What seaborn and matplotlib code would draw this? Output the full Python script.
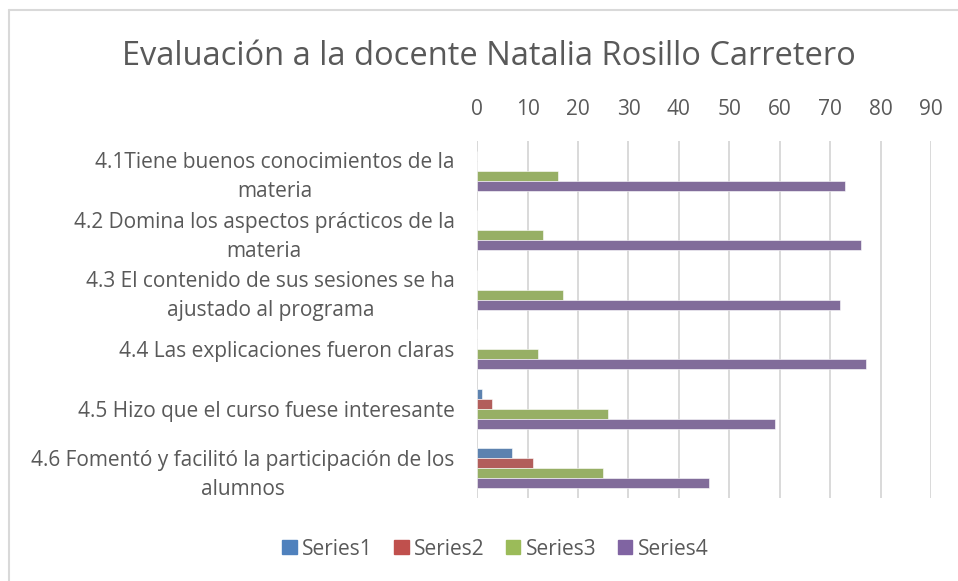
import pandas as pd
import matplotlib.pyplot as plt
import seaborn as sns
from matplotlib.lines import Line2D

# Chart data
categories = [
    "4.1Tiene buenos conocimientos de la\nmateria",
    "4.2 Domina los aspectos prácticos de la\nmateria",
    "4.3 El contenido de sus sesiones se ha\najustado al programa",
    "4.4 Las explicaciones fueron claras",
    "4.5 Hizo que el curso fuese interesante",
    "4.6 Fomentó y facilitó la participación de los\nalumnos",
]
series_names = ["Series1", "Series2", "Series3", "Series4"]
series1 = [0, 0, 0, 0, 1, 7]
series2 = [0, 0, 0, 0, 3, 11]
series3 = [16, 13, 17, 12, 26, 25]
series4 = [73, 76, 72, 77, 59, 46]
x_ticks = [0, 10, 20, 30, 40, 50, 60, 70, 80, 90]

colors = ["#4F81BD", "#C0504D", "#9BBB59", "#8064A2"]

rows = []
for name, vals in zip(series_names, [series1, series2, series3, series4]):
    for cat, v in zip(categories, vals):
        rows.append({"categoria": cat, "serie": name, "valor": v})
data = pd.DataFrame(rows)

sns.set_style("white")
plt.rcParams['font.family'] = ['Open Sans', 'DejaVu Sans']

fig = plt.figure(figsize=(9.58, 5.81), dpi=100)
ax = fig.add_axes([0.498, 0.143, 0.474, 0.614])

sns.barplot(
    data=data, x="valor", y="categoria", hue="serie",
    order=categories, hue_order=series_names,
    palette=colors, orient="h", width=0.67, gap=0,
    edgecolor="white", linewidth=0.4, ax=ax,
)

ax.set_xlim(0, 90)
ax.set_xticks(x_ticks)
ax.xaxis.tick_top()
ax.grid(axis="x", color="#D9D9D9", linewidth=1.4)
ax.set_axisbelow(True)
for s in ax.spines.values():
    s.set_visible(False)
ax.axvline(0, color="#D9D9D9", linewidth=1.4, zorder=0)

ax.set_xlabel("")
ax.set_ylabel("")
ax.tick_params(axis="x", length=0, pad=15, labelsize=15, colors="#595959")
ax.tick_params(axis="y", length=0, pad=16, labelsize=15, colors="#595959")
for lbl in ax.get_yticklabels():
    lbl.set_multialignment("center")
    lbl.set_linespacing(1.5)

fig.text(0.51, 0.903, "Evaluación a la docente Natalia Rosillo Carretero",
         ha="center", va="center", fontsize=23.5, color="#595959")

handles = [plt.Rectangle((0, 0), 1, 1, color=c) for c in colors]
ax.get_legend().remove()
fig.legend(handles, series_names, loc="center", bbox_to_anchor=(0.517, 0.055),
           ncol=4, frameon=False, fontsize=15, handlelength=0.68, handleheight=0.68,
           handletextpad=0.25, columnspacing=1.05, labelcolor="#595959")

# outer chart border (left and top edges visible)
fig.add_artist(Line2D([0.009, 0.009], [0, 0.983], color="#D9D9D9", linewidth=1.5))
fig.add_artist(Line2D([0.009, 1.0], [0.983, 0.983], color="#D9D9D9", linewidth=1.5))

fig.savefig("out.png", dpi=100, facecolor="white")
